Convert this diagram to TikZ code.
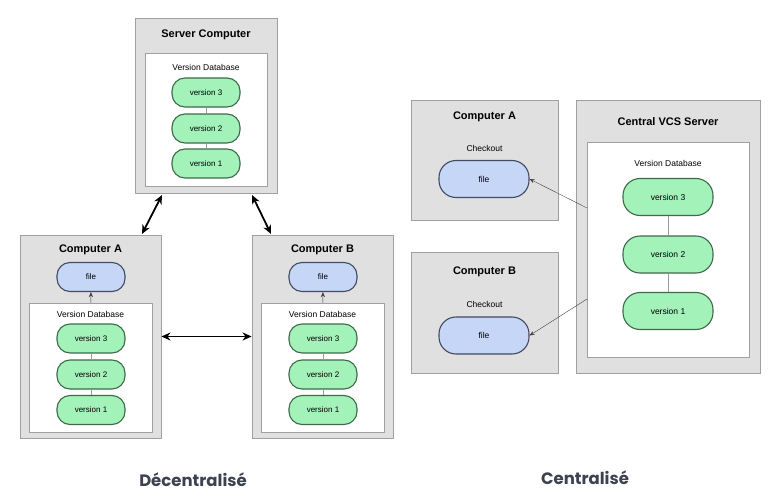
\documentclass[tikz,border=0pt]{standalone}
\usepackage{fontspec}
\setmainfont{Liberation Sans}
\newfontfamily\capfont{Poppins}
\usetikzlibrary{arrows.meta}
\definecolor{boxfill}{HTML}{E0E0E0}
\definecolor{boxedge}{HTML}{A0A0A0}
\definecolor{vergreen}{HTML}{A2F2BA}
\definecolor{veredge}{HTML}{3E6A4A}
\definecolor{fileblue}{HTML}{C6D6F6}
\definecolor{fileedge}{HTML}{424A64}
\definecolor{captext}{HTML}{3D4250}

\begin{document}
\begin{tikzpicture}[
		x=1pt, y=-1pt,
		box/.style={rectangle, draw=boxedge, fill=boxfill, line width=0.9pt, inner sep=0pt},
		db/.style={rectangle, draw=boxedge, fill=white, line width=0.6pt, inner sep=0pt},
		ver/.style={rectangle, draw=veredge, fill=vergreen, line width=1.1pt, rounded corners=13pt,
			minimum width=68pt, minimum height=29pt, inner sep=0pt, font=\fontsize{8}{9}\selectfont},
		bigver/.style={ver, rounded corners=17pt, minimum width=90pt, minimum height=37pt,
			font=\fontsize{8.5}{10}\selectfont},
		filepill/.style={ver, draw=fileedge, fill=fileblue},
		bigfile/.style={bigver, draw=fileedge, fill=fileblue},
		title/.style={font=\bfseries\fontsize{11}{13}\selectfont},
		small/.style={font=\fontsize{8.5}{10}\selectfont},
		caption/.style={font=\capfont\fontsize{16.5}{19}\selectfont, text=captext},
		link/.style={draw=gray!80, line width=0.6pt},
		sync/.style={{Stealth[length=9pt,width=8pt]}-{Stealth[length=9pt,width=8pt]}, line width=1.8pt},
		fetch/.style={-{Stealth[length=5pt,width=4pt]}, line width=0.4pt, draw=black!75}
	]
  \useasboundingbox (0,0) rectangle (782,503);

  \node (srv) [box, minimum width=142pt, minimum height=175pt] at (206,105.5) {};
  \node (srv_title) [title] at (206,35) {Server Computer};
  \node (srv_db) [db, minimum width=122pt, minimum height=133pt] at (206,119.5) {};
  \node (srv_db_label) [small] at (206,67) {Version Database};
  \node (srv_v3) [ver] at (206,92.5) {version 3};
  \node (srv_v2) [ver] at (206,128.5) {version 2};
  \node (srv_v1) [ver] at (206,163.5) {version 1};
  \draw [link] (srv_v3) -- (srv_v2);
  \draw [link] (srv_v2) -- (srv_v1);

  \node (a) [box, minimum width=141pt, minimum height=203pt] at (90.5,336.5) {};
  \node (a_title) [title] at (90.5,250) {Computer A};
  \node (a_file) [filepill] at (91,277) {file};
  \node (a_db) [db, minimum width=123pt, minimum height=129pt] at (90.5,367.5) {};
  \node (a_db_label) [small] at (90.5,314) {Version Database};
  \node (a_v3) [ver] at (91,338.5) {version 3};
  \node (a_v2) [ver] at (91,374.5) {version 2};
  \node (a_v1) [ver] at (91,410) {version 1};
  \draw [link] (a_v3) -- (a_v2);
  \draw [link] (a_v2) -- (a_v1);
  \draw [fetch] (a_db) -- (a_file);

  \node (b) [box, minimum width=141pt, minimum height=203pt] at (322.5,336.5) {};
  \node (b_title) [title] at (322.5,250) {Computer B};
  \node (b_file) [filepill] at (323,277) {file};
  \node (b_db) [db, minimum width=123pt, minimum height=129pt] at (322.5,367.5) {};
  \node (b_db_label) [small] at (322.5,314) {Version Database};
  \node (b_v3) [ver] at (323,338.5) {version 3};
  \node (b_v2) [ver] at (323,374.5) {version 2};
  \node (b_v1) [ver] at (323,410) {version 1};
  \draw [link] (b_v3) -- (b_v2);
  \draw [link] (b_v2) -- (b_v1);
  \draw [fetch] (b_db) -- (b_file);

  \coordinate (srv_sw) at (162,195);
  \coordinate (srv_se) at (252,195);
  \coordinate (a_ne) at (142,234);
  \coordinate (b_nw) at (271,234);
  \draw [sync] (srv_sw) -- (a_ne);
  \draw [sync] (srv_se) -- (b_nw);
  \draw [sync] (a.east) -- (b.west);

  \node (ca) [box, minimum width=147pt, minimum height=120pt] at (484.5,160) {};
  \node (ca_title) [title] at (484.5,117) {Computer A};
  \node (ca_label) [small] at (484.5,148) {Checkout};
  \node (ca_file) [bigfile] at (484,179) {file};

  \node (cb) [box, minimum width=147pt, minimum height=121pt] at (484.5,312.5) {};
  \node (cb_title) [title] at (484.5,272) {Computer B};
  \node (cb_label) [small] at (484.5,304) {Checkout};
  \node (cb_file) [bigfile] at (484,335.5) {file};

  \node (vcs) [box, minimum width=184pt, minimum height=273pt] at (668,236.5) {};
  \node (vcs_title) [title] at (668,122) {Central VCS Server};
  \node (vcs_db) [db, minimum width=162pt, minimum height=215pt] at (668,249.5) {};
  \node (vcs_db_label) [small] at (668,163) {Version Database};
  \node (vcs_v3) [bigver] at (668,197) {version 3};
  \node (vcs_v2) [bigver] at (668,254.5) {version 2};
  \node (vcs_v1) [bigver] at (668,311) {version 1};
  \draw [link] (vcs_v3) -- (vcs_v2);
  \draw [link] (vcs_v2) -- (vcs_v1);

  \coordinate (vcs_out_a) at (587,208);
  \coordinate (vcs_out_b) at (587,299);
  \draw [fetch] (vcs_out_a) -- (ca_file.east);
  \draw [fetch] (vcs_out_b) -- (cb_file.east);

  \node (dvcs_caption) [caption] at (193,480) {\textbf{Décentralisé}};
  \node (cvcs_caption) [caption] at (585,478) {\textbf{Centralisé}};
\end{tikzpicture}
\end{document}
